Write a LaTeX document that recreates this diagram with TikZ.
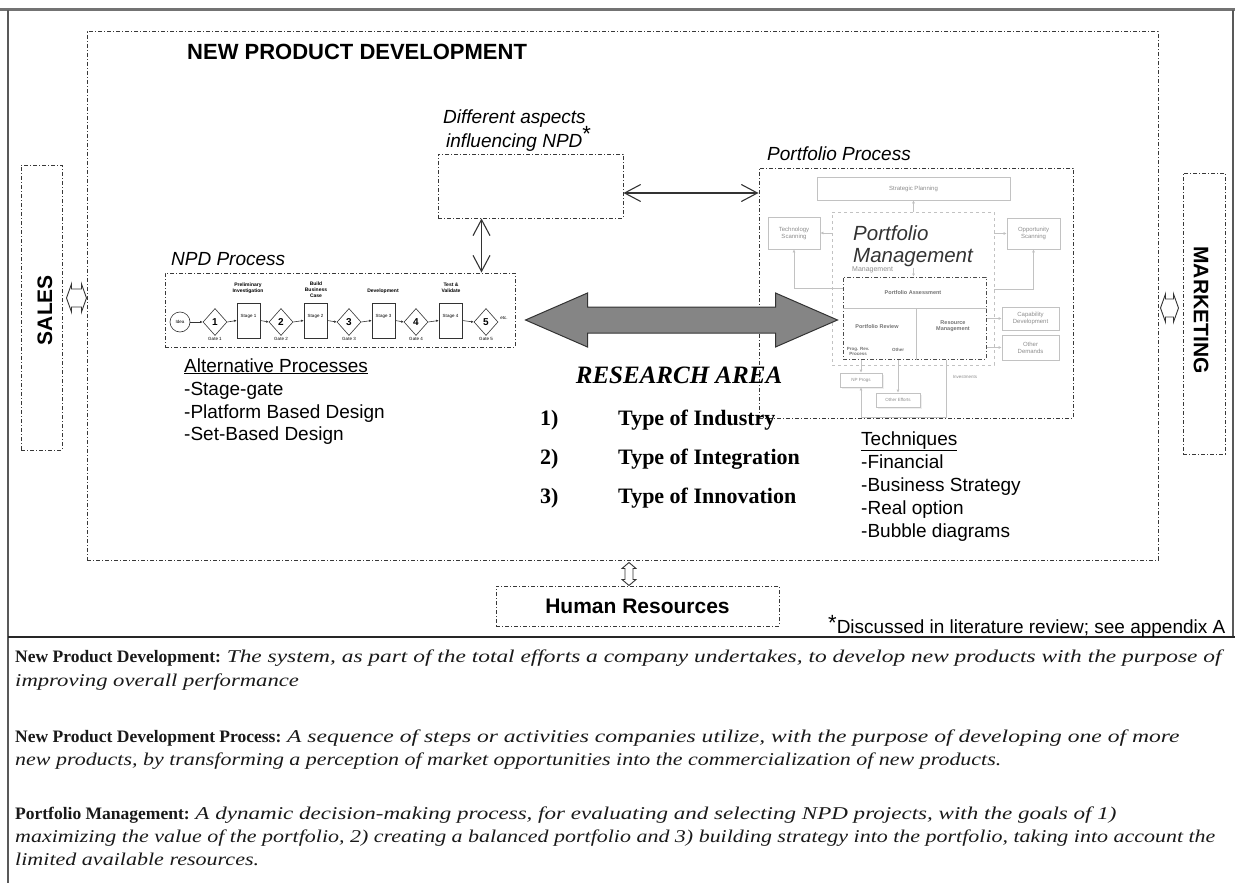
\documentclass[tikz,border=0pt]{standalone}
\usepackage{fontspec}
\usepackage{graphicx}
\setmainfont{Liberation Serif}
\newfontfamily\arial{Liberation Sans}
\usetikzlibrary{shapes.geometric,arrows.meta,calc,shadows}
\newcommand\fsz[2]{\fontsize{#1}{#2}\selectfont}
% wide italic used in the definitions
\newcommand\wit[2]{\scalebox{#1}[1]{\itshape\fsz{18}{22}#2}}
\definecolor{fa}{gray}{0.76}
\definecolor{ft}{gray}{0.55}
\begin{document}
\begin{tikzpicture}[x=1pt,y=-1pt,
  dd/.style={draw=black!78, line width=1pt, dash pattern=on 4pt off 2pt on 1pt off 2pt, inner sep=0},
  lbl/.style={anchor=base west, inner sep=0, font=\arial\fsz{19}{23}},
  ilbl/.style={lbl, font=\arial\itshape\fsz{19}{23}},
  thin arrow/.style={draw=black!80, line width=1.1pt, {Straight Barb[length=16pt,width=17pt]}-{Straight Barb[length=16pt,width=17pt]}},
  hollow/.style={draw=black!80, line width=0.9pt, fill=white},
  sgbox/.style={draw=black!80, line width=0.6pt, inner sep=0, minimum width=23pt, minimum height=35pt},
  sgdia/.style={diamond, draw=black!80, line width=0.6pt, inner sep=0, minimum width=24pt, minimum height=27pt, font=\arial\bfseries\fsz{10}{10}},
  sgtxt/.style={font=\arial\bfseries\fsz{5}{6}, inner sep=0, align=center},
  sgsm/.style={font=\arial\fsz{4.5}{5}, inner sep=0},
  sgarr/.style={draw=black!80, line width=0.6pt, -{Latex[length=2.5pt,width=2.5pt]}},
  pf/.style={draw=fa, line width=0.6pt, rectangle, inner sep=0, font=\arial\fsz{6}{7}, text=ft, align=center},
  pa/.style={draw=fa, line width=0.6pt, -{Latex[length=3pt,width=3pt]}},
  ptx/.style={inner sep=0, font=\arial\bfseries\fsz{5.5}{6.5}, text=black!55, align=center},
  def/.style={anchor=base west, inner sep=0, font=\fsz{17.5}{21}, text=black!90}
]
\useasboundingbox (0,0) rectangle (1235,883);

% page frame
\draw[black!55, line width=3pt] (0,10) -- (1235,10);
\draw[black!65, line width=2pt] (8,10) -- (8,883);
\draw[black!65, line width=2pt] (1233,10) -- (1233,637);
\draw[black!85, line width=2.5pt] (8,637) -- (1235,637);

% main system boundary
\node[dd, minimum width=1071pt, minimum height=528pt] (npd) at (622.5,296) {};
\node[anchor=west, inner sep=0, font=\arial\bfseries\fsz{22}{26}] (title) at (187,52) {NEW PRODUCT DEVELOPMENT};

% surrounding functions
\node[dd, minimum width=41pt, minimum height=285pt] (sales) at (41.5,307.5) {};
\node[rotate=90, inner sep=0, font=\arial\bfseries\fsz{21}{24}] (salest) at (45,310) {SALES};
\node[dd, minimum width=42pt, minimum height=281pt] (mkt) at (1204,313.5) {};
\node[rotate=-90, inner sep=0, font=\arial\bfseries\fsz{21}{24}] (mktt) at (1201,310) {MARKETING};
\node[dd, minimum width=283pt, minimum height=40pt, font=\arial\bfseries\fsz{21}{24}] (hr) at (637.5,606) {Human Resources};

% hollow exchange arrows
\coordinate (sa) at ($(sales.east |- 0,298)+(4,0)$);
\draw[hollow] (sa) -- ++(5,-14) -- ++(0,5) -- ++(10,0) -- ++(0,-5) -- ++(5,14) -- ++(-5,14) -- ++(0,-5) -- ++(-10,0) -- ++(0,5) -- cycle;
\coordinate (ma) at ($(npd.east |- 0,308)+(2,0)$);
\draw[hollow] (ma) -- ++(5,-14) -- ++(0,5) -- ++(8,0) -- ++(0,-5) -- ++(5,14) -- ++(-5,14) -- ++(0,-5) -- ++(-8,0) -- ++(0,5) -- cycle;
\coordinate (ha) at ($(npd.south -| 629,0)+(0,2)$);
\draw[hollow] (ha) -- ++(7,6) -- ++(-3,0) -- ++(0,11) -- ++(3,0) -- ++(-7,6) -- ++(-7,-6) -- ++(3,0) -- ++(0,-11) -- ++(-3,0) -- cycle;

% footnote
\node[anchor=base west, inner sep=0, font=\arial\fsz{19}{22}] (fn) at (828,633) {{\fsz{22}{22}\raisebox{3pt}{*}}Discussed in literature review; see appendix A};

% different aspects
\node[dd, minimum width=185pt, minimum height=64pt] (diff) at (530.5,186) {};
\node[ilbl] (da1) at (443,124) {Different aspects};
\node[ilbl] (da2) at (446,147) {influencing NPD{\upshape\fsz{22}{22}\raisebox{6pt}{*}}};

% NPD process
\node[dd, minimum width=350pt, minimum height=74pt] (npdp) at (340,310) {};
\node[ilbl] (npdl) at (171,265) {NPD Process};

% stage-gate sketch inside the NPD process box
\node[circle, draw=black!80, line width=0.6pt, minimum size=20pt, sgsm] (idea) at (180,322) {Idea};
\node[sgdia] (g1) at (215,322) {1};
\node[sgbox] (s1) at (248.5,320.5) {};
\node[sgdia] (g2) at (281,322) {2};
\node[sgbox] (s2) at (315.5,320.5) {};
\node[sgdia] (g3) at (349,322) {3};
\node[sgbox] (s3) at (383.5,320.5) {};
\node[sgdia] (g4) at (416,322) {4};
\node[sgbox] (s4) at (450.5,320.5) {};
\node[sgdia] (g5) at (486,322) {5};
\foreach \a/\b in {idea/g1,g1/s1,s1/g2,g2/s2,s2/g3,g3/s3,s3/g4,g4/s4,s4/g5}
  \draw[sgarr] (\a.east) -- (\b.west);
\foreach \s/\n in {s1/1,s2/2,s3/3,s4/4}
  \node[sgsm] at ($(\s.center)+(0,-4)$) {Stage \n};
\foreach \g/\n in {g1/1,g2/2,g3/3,g4/4,g5/5}
  \node[sgsm] at ($(\g.center)+(0,17)$) {Gate \n};
\node[sgtxt] at (248,288) {Preliminary\\Investigation};
\node[sgtxt] at (316,290) {Build\\Business\\Case};
\node[sgtxt] at (383,291) {Development};
\node[sgtxt] at (451,288) {Test \&\\Validate};
\node[sgsm] at (504,318) {etc.};

\node[lbl] (ap) at (184,372) {\underline{Alternative Processes}};
\node[lbl] (ap1) at (184,395) {-Stage-gate};
\node[lbl] (ap2) at (184,418) {-Platform Based Design};
\node[lbl] (ap3) at (184,440) {-Set-Based Design};

% portfolio process
\node[dd, minimum width=314pt, minimum height=250pt] (pp) at (916,293) {};
\node[ilbl] (ppl) at (767,160) {Portfolio Process};

\node[pf, minimum width=193pt, minimum height=23pt] (sp) at (913.5,188.5) {Strategic Planning};
\node[pf, minimum width=52pt, minimum height=32pt] (ts) at (794,233) {Technology\\Scanning};
\node[pf, minimum width=53pt, minimum height=31pt] (os) at (1033.5,233.5) {Opportunity\\Scanning};
\node[pf, minimum width=57pt, minimum height=23pt] (cd) at (1030.5,318.5) {Capability\\Development};
\node[pf, minimum width=57pt, minimum height=25pt] (od) at (1030.5,347.5) {Other\\Demands};
\node[draw=fa, dashed, line width=0.6pt, minimum width=162pt, minimum height=153pt, inner sep=0] (pin) at (913,288.5) {};
\node[dd, draw=black!70, minimum width=143pt, minimum height=82pt] (pcore) at (914.5,318) {};
\draw[fa, line width=0.6pt] (pcore.west |- 0,308) -- (pcore.east |- 0,308);
\draw[fa, line width=0.6pt] (916,308) -- (pcore.south -| 916,0);
\node[ptx] at (913,293) {Portfolio Assessment};
\node[ptx] at (877,327) {Portfolio Review};
\node[ptx] at (953,326) {Resource\\Management};
\node[ptx, font=\arial\bfseries\fsz{4.5}{5}] at (858,351) {Prog. Rev.\\Process};
\node[ptx, font=\arial\bfseries\fsz{4.5}{5}] at (898,350) {Other};

\draw[pa] (pin.north -| sp.south) -- (sp.south);
\draw[pa] (pin.west |- ts.east) -- (ts.east);
\draw[pa] (pin.east |- os.west) -- (os.west);
\draw[pa] (pcore.west |- 0,288) -| (ts.south);
\draw[pa] (pin.east |- 0,289) -| (os.south);
\draw[pa] (pcore.east |- cd.west) -- (cd.west);
\draw[pa] (pcore.east |- od.west) -- (od.west);
\draw[pa] ($(pcore.north)+(-1,-9)$) -- ($(pcore.north)+(-1,0)$);

\node[pf, fill=white, minimum width=42pt, minimum height=14pt, font=\arial\fsz{4.5}{5}, drop shadow={fill=black!12, shadow xshift=2pt, shadow yshift=-2pt}] (np) at (861,380) {NP Progs};
\node[pf, fill=white, minimum width=44pt, minimum height=14pt, font=\arial\fsz{4.5}{5}, drop shadow={fill=black!12, shadow xshift=2pt, shadow yshift=-2pt}] (oe) at (898,400) {Other Efforts};
\draw[pa] (pcore.south -| np.north) -- (np.north);
\draw[pa] (pcore.south -| oe.north) -- (oe.north);
\draw[pa] (pcore.south -| 946,0) -- (946,417) -| (np.south);
\node[inner sep=0, font=\arial\fsz{4.5}{5}, text=ft] at (965,377) {Investments};
\node[inner sep=0, anchor=west, font=\arial\fsz{7}{8}, text=ft] at (852,270) {Management};

\node[anchor=base west, inner sep=0, font=\arial\itshape\fsz{20.5}{24}, text=black!80] (pm1) at (853,240) {Portfolio};
\node[anchor=base west, inner sep=0, font=\arial\itshape\fsz{20.5}{24}, text=black!80] (pm2) at (853,262) {Management};

\node[lbl] (tq) at (861,445) {\underline{Techniques}};
\node[lbl] (tq1) at (861,468) {-Financial};
\node[lbl] (tq2) at (861,491) {-Business Strategy};
\node[lbl] (tq3) at (861,514) {-Real option};
\node[lbl] (tq4) at (861,537) {-Bubble diagrams};

% links between the parts
\draw[thin arrow] ($(diff.east)+(0,7)$) -- ($(pp.west |- diff.east)+(0,7)$);
\coordinate (va) at ($(diff.south west)+(44,0)$);
\draw[thin arrow] (va) -- (va |- npdp.north);

% central research area arrow
\coordinate (bl) at ($(npdp.east)+(10,10)$);
\coordinate (br) at ($(pcore.west)+(-5,2)$);
\draw[fill=black!48, draw=black!80, line width=1pt] (bl) -- ++(62,-27) -- ++(0,14) -- ($(br)+(-62,-13)$) -- ++(0,-14) -- (br) -- ++(-62,27) -- ++(0,-14) -- ($(bl)+(62,13)$) -- ++(0,14) -- cycle;

\node[anchor=base, inner sep=0, font=\bfseries\itshape\fsz{25}{30}] (ra) at (679,383) {RESEARCH AREA};
\node[anchor=base west, inner sep=0, font=\bfseries\fsz{22}{26}] (n1) at (540,425) {1)};
\node[anchor=base west, inner sep=0, font=\bfseries\fsz{22}{26}] (t1) at (618,425) {Type of Industry};
\node[anchor=base west, inner sep=0, font=\bfseries\fsz{22}{26}] (n2) at (540,464) {2)};
\node[anchor=base west, inner sep=0, font=\bfseries\fsz{22}{26}] (t2) at (618,464) {Type of Integration};
\node[anchor=base west, inner sep=0, font=\bfseries\fsz{22}{26}] (n3) at (540,503) {3)};
\node[anchor=base west, inner sep=0, font=\bfseries\fsz{22}{26}] (t3) at (618,503) {Type of Innovation};

% definitions
\node[def] (d1) at (15,662) {\textbf{New Product Development:} \wit{1.30}{The system, as part of the total efforts a company undertakes, to develop new products with the purpose of}};
\node[def] (d2) at (15,686) {\wit{1.26}{improving overall performance}};
\node[def] (d3) at (15,742) {\textbf{New Product Development Process:} \wit{1.31}{A sequence of steps or activities companies utilize, with the purpose of developing one of more}};
\node[def] (d4) at (15,765) {\wit{1.22}{new products, by transforming a perception of market opportunities into the commercialization of new products.}};
\node[def] (d5) at (15,819) {\textbf{Portfolio Management:} \wit{1.28}{A dynamic decision-making process, for evaluating and selecting NPD projects, with the goals of 1)}};
\node[def] (d6) at (15,842) {\wit{1.22}{maximizing the value of the portfolio, 2) creating a balanced portfolio and 3) building strategy into the portfolio, taking into account the}};
\node[def] (d7) at (15,865) {\wit{1.225}{limited available resources.}};
\end{tikzpicture}
\end{document}
